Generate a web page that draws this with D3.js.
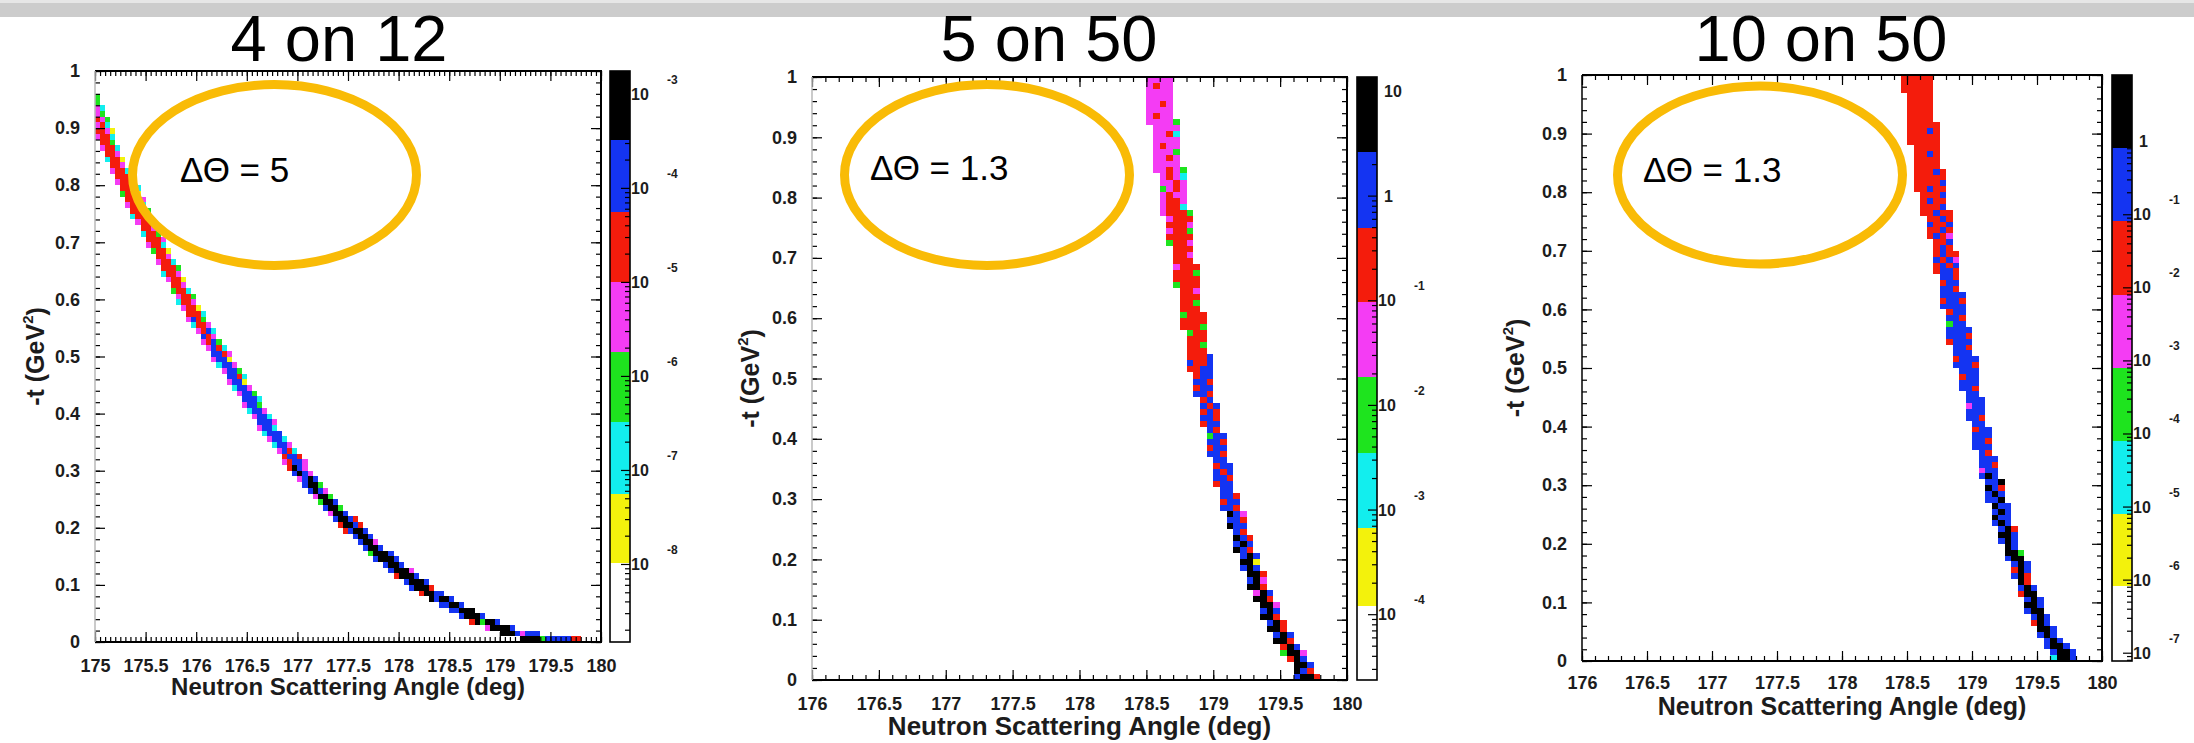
<!DOCTYPE html>
<html>
<head>
<meta charset="utf-8">
<script src="https://cdn.jsdelivr.net/npm/d3@7"></script>
<style>
  body { margin: 0; background: #fff; }
  svg { display: block; font-family: "Liberation Sans", Arial, Helvetica, sans-serif; }
</style>
</head>
<body>
<svg id="chart" width="2194" height="743"></svg>
<script>
// ---------- data ----------
var titles = ["4 on 12", "5 on 50", "10 on 50"];
var deltaTheta = ["5", "1.3", "1.3"];
var xDomains = [[175, 180], [176, 180], [176, 180]];
var xTicks1 = [175, 175.5, 176, 176.5, 177, 177.5, 178, 178.5, 179, 179.5, 180];
var xTickLabels1 = ["175", "175.5", "176", "176.5", "177", "177.5", "178", "178.5", "179", "179.5", "180"];
var xTicks2 = [176, 176.5, 177, 177.5, 178, 178.5, 179, 179.5, 180];
var xTickLabels2 = ["176", "176.5", "177", "177.5", "178", "178.5", "179", "179.5", "180"];
var yTicks = [0, 0.1, 0.2, 0.3, 0.4, 0.5, 0.6, 0.7, 0.8, 0.9, 1];
var yTickLabels = ["0", "0.1", "0.2", "0.3", "0.4", "0.5", "0.6", "0.7", "0.8", "0.9", "1"];
var xTitle = "Neutron Scattering Angle (deg)";

// histogram bins: 0.05 deg wide, 0.01 GeV^2 high
var binX = 0.05, binT = 0.01;

// one entry per -t bin (row 0 = 0..0.01): [first angle bin, colour code of each filled cell]
var band1 = [
  [84,"KKKKGBBBBBRR"],[80,"KKKBMBBB"],[77,"MKKKKB"],[74,"RKGKKB"],[72,"BKKKB"],
  [70,"BBKKK"],[68,"BBKKB"],[66,"KBKKB"],[64,"RKKBB"],[62,"BKKKR"],
  [61,"BKKKB"],[59,"RKKKB"],[58,"BKKKM"],[57,"BKKB"],[55,"BKKKB"],
  [54,"GKKKB"],[53,"BKKB"],[52,"BKKM"],[51,"BKKB"],[49,"RBKKB"],
  [48,"RKKBR"],[47,"BKKBR"],[46,"MKKB"],[45,"BKKG"],[44,"GKKB"],
  [43,"MKKG"],[42,"BKBM"],[41,"BKKG"],[40,"MBKB"],[39,"BKBM"],
  [38,"RKBM"],[37,"MRBBM"],[37,"RBBR"],[36,"MBRC"],[35,"CBBM"],
  [34,"MBBC"],[33,"CBBB"],[32,"MBBC"],[32,"BBBM"],[31,"MBBC"],
  [30,"CBBM"],[29,"MBBG"],[29,"BBBC"],[28,"MBBG"],[27,"CBBM"],
  [26,"MBBY"],[26,"BBRC"],[25,"MBBG"],[24,"CBBM"],[23,"MBBY"],
  [23,"BBRM"],[22,"MBRC"],[21,"MRBG"],[21,"BRM"],[20,"MRBC"],
  [19,"CRRM"],[18,"MBRG"],[18,"RRRC"],[17,"MRRY"],[16,"CRRM"],
  [16,"MRRG"],[15,"GRRC"],[15,"RRM"],[14,"MRRY"],[13,"CRRM"],
  [13,"RRRG"],[12,"MRRC"],[12,"RRM"],[11,"GRRY"],[10,"MRRC"],
  [10,"RRRM"],[9,"CRRG"],[9,"RRM"],[8,"MRRY"],[7,"CRRM"],
  [7,"RRRG"],[6,"MRRC"],[6,"RRRM"],[5,"GRRY"],[5,"RRMC"],
  [4,"MRRC"],[4,"RRRG"],[3,"MRRC"],[3,"RRM"],[2,"CRRY"],
  [2,"RRM"],[1,"MRRC"],[1,"RRG"],[0,"MRRC"],[0,"RRMY"],
  [0,"MRC"],[0,"RMG"],[0,"MG"],[0,"MC"],[0,"G"],[0,"G"]
];
var band2 = [
  [72,"BKKR"],[72,"KBR"],[72,"KKB"],[71,"RKB"],[70,"GKKM"],
  [70,"RKB"],[69,"KKR"],[69,"BKB"],[68,"KKR"],[68,"BKR"],
  [67,"KKR"],[67,"BKB"],[67,"KKM"],[66,"KKR"],[66,"MKB"],
  [65,"KKR"],[65,"BKM"],[65,"KKR"],[64,"BKB"],[64,"KKY"],
  [64,"BKB"],[63,"KBR"],[63,"BKB"],[63,"KBR"],[63,"BR"],
  [62,"KBB"],[62,"BBR"],[62,"KBM"],[61,"BBR"],[61,"RBB"],
  [61,"BBR"],[61,"BB"],[60,"RBB"],[60,"BBR"],[60,"BRB"],
  [60,"RBB"],[60,"BB"],[59,"BBR"],[59,"RBB"],[59,"BBR"],
  [59,"GBB"],[59,"BR"],[58,"RBB"],[58,"BBR"],[58,"RBR"],
  [58,"BRB"],[58,"RB"],[57,"BBR"],[57,"RBB"],[57,"BBR"],
  [57,"RBB"],[56,"RRBB"],[56,"BRRB"],[56,"RRRB"],[56,"RRR"],
  [56,"RRG"],[56,"RRR"],[56,"GRR"],[55,"RRRG"],[55,"RRRR"],
  [55,"GRRR"],[55,"RRR"],[55,"RRG"],[55,"RRR"],[55,"RRM"],
  [54,"GRRR"],[54,"RRRR"],[54,"RRRG"],[54,"MRRR"],[54,"RRR"],
  [54,"RRM"],[54,"RRR"],[53,"GRRM"],[53,"RRRR"],[53,"MRRG"],
  [53,"RRRM"],[53,"MRRR"],[52,"MRRRG"],[52,"MRRC"],[52,"MRRM"],
  [52,"MRMM"],[52,"GMRM"],[52,"MMRM"],[52,"MRMC"],[51,"MMRMG"],
  [51,"MMMM"],[51,"MMRM"],[51,"MMMG"],[51,"MRMM"],[51,"MMMM"],
  [51,"MMRC"],[51,"MMMM"],[50,"MMMMG"],[50,"MRMM"],[50,"MMMM"],
  [50,"MMRM"],[50,"MMMM"],[50,"MMMM"],[50,"MRMM"],[50,"MMMM"]
];
var band3 = [
  [72,"CKKB"],[72,"BKKB"],[71,"BKKB"],[71,"BKB"],[70,"BKB"],
  [70,"KKB"],[69,"RKB"],[69,"BKB"],[68,"BKK"],[68,"KKB"],
  [68,"BKB"],[67,"RKK"],[67,"BKB"],[67,"KR"],[66,"BKR"],
  [66,"RKB"],[66,"BKB"],[65,"BKK"],[65,"KKG"],[65,"KB"],
  [64,"BKB"],[64,"KKB"],[64,"BKR"],[63,"BKB"],[63,"KBB"],
  [63,"BKB"],[63,"KBB"],[62,"BBK"],[62,"BKB"],[62,"KBR"],
  [62,"BBK"],[61,"BKB"],[61,"MBB"],[61,"BBR"],[61,"BBB"],
  [61,"BR"],[60,"BBB"],[60,"BBR"],[60,"BBB"],[60,"RBB"],
  [60,"BB"],[59,"BBR"],[59,"BBB"],[59,"MBB"],[59,"BBB"],
  [59,"BB"],[58,"BBR"],[58,"BBB"],[58,"RBB"],[58,"BBB"],
  [57,"BBBR"],[57,"RBBB"],[57,"BBB"],[57,"BBR"],[56,"RBBB"],
  [56,"BBBR"],[56,"BBBB"],[56,"GBB"],[56,"BBR"],[56,"RBB"],
  [55,"BBBB"],[55,"RBBR"],[55,"BBBB"],[55,"BBR"],[55,"RBB"],
  [55,"BBR"],[54,"RBBR"],[54,"RBRB"],[54,"BRBM"],[54,"RBRR"],
  [54,"RBR"],[54,"RRB"],[53,"RBRM"],[53,"RRBR"],[53,"BRRB"],
  [53,"RRBR"],[52,"RRBRR"],[52,"RRRB"],[52,"RBRR"],[52,"RRRB"],
  [51,"RRBRR"],[51,"RRRRB"],[51,"RRRRR"],[51,"RRRBR"],[51,"RRRR"],
  [51,"RRRR"],[51,"RRBR"],[51,"RRRR"],[50,"RRRRR"],[50,"RRRRR"],
  [50,"RRRBR"],[50,"RRRRR"],[50,"RRRR"],[50,"RRRR"],[50,"RRRR"],
  [50,"RRRR"],[50,"RRRR"],[49,"RRRRR"],[49,"RRRRR"],[49,"RRRRR"]
];

// colour scale (z) ranges and contour levels, lowest level first
var zRange1 = [1.48e-9, 1.75e-3];
var zLevels1 = [1.02e-8, 5.6e-8, 3.2e-7, 1.8e-6, 1.0e-5, 5.6e-5, 3.2e-4];
var zExp1 = [-3, -4, -5, -6, -7, -8];
var zRange2 = [2.35e-5, 13.6];
var zLevels2 = [1.19e-4, 6.6e-4, 3.5e-3, 1.84e-2, 9.7e-2, 0.49, 2.6];
var zExp2 = [1, 0, -1, -2, -3, -4];
var zRange3 = [7.7e-8, 8.05];
var zLevels3 = [8.3e-7, 7.8e-6, 7.8e-5, 7.9e-4, 7.9e-3, 0.080, 0.80];
var zExp3 = [0, -1, -2, -3, -4, -5, -6, -7];

var codeOrder = ["Y", "C", "G", "M", "R", "B", "K"];
var codeColor = { Y: "#f3f20c", C: "#12eeee", G: "#1ee41e", M: "#f43cf4", R: "#f41c0c", B: "#1434f2", K: "#000000" };

// ---------- layout ----------
var panels = [
  { band: band1, xDomain: xDomains[0], xTicks: xTicks1, xLabels: xTickLabels1, xMinor: 0.05,
    zRange: zRange1, zLevels: zLevels1, zExp: zExp1,
    left: 95, right: 601, top: 71, bottom: 642, cbLeft: 610, cbRight: 630, leftEdge: "#b8b8b8",
    titleX: 339, xPad: 17.7, yTitleX: 35, xTitleY: 695, xTitleSize: 24,
    ell: { cx: 274.5, cy: 175, rx: 142, ry: 90.5 }, dtX: 180, dtY: 182 },
  { band: band2, xDomain: xDomains[1], xTicks: xTicks2, xLabels: xTickLabels2, xMinor: 0.1,
    zRange: zRange2, zLevels: zLevels2, zExp: zExp2,
    left: 812, right: 1347, top: 77, bottom: 680, cbLeft: 1357, cbRight: 1377, leftEdge: "#b8b8b8",
    titleX: 1049, xPad: 17.7, yTitleX: 750, xTitleY: 735, xTitleSize: 26,
    ell: { cx: 987, cy: 175, rx: 142.5, ry: 90.5 }, dtX: 870, dtY: 180 },
  { band: band3, xDomain: xDomains[2], xTicks: xTicks2, xLabels: xTickLabels2, xMinor: 0.1,
    zRange: zRange3, zLevels: zLevels3, zExp: zExp3,
    left: 1582, right: 2102, top: 75, bottom: 661, cbLeft: 2112, cbRight: 2132, leftEdge: "#000",
    titleX: 1821, xPad: 15.7, yTitleX: 1515, xTitleY: 715, xTitleSize: 25,
    ell: { cx: 1760, cy: 175, rx: 142.5, ry: 89 }, dtX: 1643, dtY: 182 }
];

var svg = d3.select("#chart");

// slide header strip
svg.append("rect").attr("x", 0).attr("y", 0).attr("width", 2194).attr("height", 17).attr("fill", "#cccccc");
svg.append("rect").attr("x", 0).attr("y", 0).attr("width", 2194).attr("height", 3).attr("fill", "#e6e6e6");

function styleAxis(g, size) {
  g.select(".domain").remove();
  g.selectAll("line").attr("stroke", "#000").attr("stroke-width", 1.2);
  g.selectAll("text").attr("font-size", size).attr("font-weight", "bold")
    .attr("fill", "#1c1c1c").attr("font-family", "'Liberation Sans', Arial, sans-serif");
}

function renderPanel(p, idx) {
  var g = svg.append("g");
  var x = d3.scaleLinear().domain(p.xDomain).range([p.left, p.right]);
  var y = d3.scaleLinear().domain([0, 1]).range([p.bottom, p.top]);

  // title
  g.append("text").attr("x", p.titleX).attr("y", 61).attr("text-anchor", "middle")
    .attr("font-size", 65).attr("fill", "#000").text(titles[idx]);

  // cells
  var cells = [];
  p.band.forEach(function(row, r) {
    row[1].split("").forEach(function(c, k) {
      cells.push({ b: row[0] + k, r: r, c: c });
    });
  });
  var clipId = "clip" + idx;
  g.append("clipPath").attr("id", clipId).append("rect")
    .attr("x", p.left).attr("y", p.top).attr("width", p.right - p.left).attr("height", p.bottom - p.top);
  var x0 = p.xDomain[0];
  g.append("g").attr("clip-path", "url(#" + clipId + ")")
    .selectAll("rect").data(cells).enter().append("rect")
    .attr("x", function(d) { return x(x0 + d.b * binX); })
    .attr("width", function(d) { return x(x0 + (d.b + 1) * binX) - x(x0 + d.b * binX); })
    .attr("y", function(d) { return y((d.r + 1) * binT); })
    .attr("height", function(d) { return y(d.r * binT) - y((d.r + 1) * binT); })
    .attr("fill", function(d) { return codeColor[d.c]; })
    .attr("shape-rendering", "crispEdges");

  // axes: major + minor, ticks pointing inward on all four sides
  var yMinor = d3.range(0, 1.0001, 0.02);
  var xMinor = d3.range(p.xDomain[0], p.xDomain[1] + 1e-6, p.xMinor);

  g.append("g").attr("transform", "translate(" + p.left + ",0)")
    .call(d3.axisLeft(y).tickValues(yMinor).tickSize(-5).tickFormat(""))
    .call(styleAxis, 18);
  g.append("g").attr("transform", "translate(" + p.left + ",0)")
    .call(d3.axisLeft(y).tickValues(yTicks).tickSize(-10).tickPadding(15)
      .tickFormat(function(d, i) { return yTickLabels[i]; }))
    .call(styleAxis, 18);
  g.append("g").attr("transform", "translate(" + p.right + ",0)")
    .call(d3.axisRight(y).tickValues(yMinor).tickSize(-5).tickFormat(""))
    .call(styleAxis, 18);
  g.append("g").attr("transform", "translate(" + p.right + ",0)")
    .call(d3.axisRight(y).tickValues(yTicks).tickSize(-10).tickFormat(""))
    .call(styleAxis, 18);

  g.append("g").attr("transform", "translate(0," + p.bottom + ")")
    .call(d3.axisBottom(x).tickValues(xMinor).tickSize(-5).tickFormat(""))
    .call(styleAxis, 18);
  g.append("g").attr("transform", "translate(0," + p.bottom + ")")
    .call(d3.axisBottom(x).tickValues(p.xTicks).tickSize(-10).tickPadding(p.xPad)
      .tickFormat(function(d, i) { return p.xLabels[i]; }))
    .call(styleAxis, 18);
  g.append("g").attr("transform", "translate(0," + p.top + ")")
    .call(d3.axisTop(x).tickValues(xMinor).tickSize(-5).tickFormat(""))
    .call(styleAxis, 18);
  g.append("g").attr("transform", "translate(0," + p.top + ")")
    .call(d3.axisTop(x).tickValues(p.xTicks).tickSize(-10).tickFormat(""))
    .call(styleAxis, 18);

  // frame
  g.append("path")
    .attr("d", "M" + p.left + "," + p.top + "H" + p.right + "V" + p.bottom + "H" + p.left)
    .attr("fill", "none").attr("stroke", "#000").attr("stroke-width", 2);
  g.append("line").attr("x1", p.left).attr("x2", p.left).attr("y1", p.top).attr("y2", p.bottom)
    .attr("stroke", p.leftEdge).attr("stroke-width", 1.5);

  // axis titles
  g.append("text").attr("x", (p.left + p.right) / 2).attr("y", p.xTitleY)
    .attr("text-anchor", "middle").attr("font-size", p.xTitleSize).attr("font-weight", "bold")
    .attr("fill", "#1c1c1c").text(xTitle);
  var yt = g.append("text")
    .attr("transform", "translate(" + p.yTitleX + "," + ((p.top + p.bottom) / 2) + ") rotate(-90)")
    .attr("text-anchor", "middle").attr("dy", "0.35em")
    .attr("font-size", 25).attr("font-weight", "bold").attr("fill", "#1c1c1c");
  yt.append("tspan").text("-t (GeV");
  yt.append("tspan").attr("font-size", 15).attr("dy", "-0.75em").text("2");
  yt.append("tspan").attr("dy", "0.5em").text(")");

  // colour bar
  var z = d3.scaleLog().domain(p.zRange).range([p.bottom, p.top]);
  var bounds = [p.zRange[0]].concat(p.zLevels).concat([p.zRange[1]]);
  var bandsCb = d3.range(bounds.length - 1).map(function(k) {
    return { lo: bounds[k], hi: bounds[k + 1], fill: k === 0 ? "#fff" : codeColor[codeOrder[k - 1]] };
  });
  g.append("g").selectAll("rect").data(bandsCb).enter().append("rect")
    .attr("x", p.cbLeft).attr("width", p.cbRight - p.cbLeft)
    .attr("y", function(d) { return z(d.hi); })
    .attr("height", function(d) { return z(d.lo) - z(d.hi); })
    .attr("fill", function(d) { return d.fill; })
    .attr("shape-rendering", "crispEdges");

  var eLo = Math.floor(Math.log10(p.zRange[0])), eHi = Math.ceil(Math.log10(p.zRange[1]));
  var zMajor = [], zMinor = [];
  d3.range(eLo, eHi + 1).forEach(function(e) {
    var v = Math.pow(10, e);
    if (v >= p.zRange[0] && v <= p.zRange[1]) zMajor.push(v);
    for (var m = 2; m <= 9; m++) {
      var w = m * v;
      if (w >= p.zRange[0] && w <= p.zRange[1]) zMinor.push(w);
    }
  });
  g.append("g").attr("transform", "translate(" + p.cbRight + ",0)")
    .call(d3.axisRight(z).tickValues(zMinor).tickSize(-5).tickFormat(""))
    .call(styleAxis, 16);
  g.append("g").attr("transform", "translate(" + p.cbRight + ",0)")
    .call(d3.axisRight(z).tickValues(zMajor).tickSize(-9).tickFormat(""))
    .call(styleAxis, 16);
  g.append("rect").attr("x", p.cbLeft).attr("y", p.top)
    .attr("width", p.cbRight - p.cbLeft).attr("height", p.bottom - p.top)
    .attr("fill", "none").attr("stroke", "#000").attr("stroke-width", 1.6);

  var lab = g.append("g").attr("font-weight", "bold").attr("fill", "#1c1c1c");
  p.zExp.forEach(function(e) {
    var yy = z(Math.pow(10, e));
    if (e === 0 || e === 1) {
      lab.append("text").attr("x", p.cbRight + 7).attr("y", yy + 6)
        .attr("font-size", 16).text(e === 0 ? "1" : "10");
    } else {
      lab.append("text").attr("x", p.cbRight + 1).attr("y", yy + 6)
        .attr("font-size", 16).text("10");
      lab.append("text").attr("x", p.cbRight + 37).attr("y", yy - 10)
        .attr("font-size", 12).text(String(e));
    }
  });

  // annotation ellipse
  g.append("ellipse").attr("cx", p.ell.cx).attr("cy", p.ell.cy)
    .attr("rx", p.ell.rx).attr("ry", p.ell.ry)
    .attr("fill", "none").attr("stroke", "#f9bb06").attr("stroke-width", 9);
  g.append("text").attr("x", p.dtX).attr("y", p.dtY).attr("font-size", 35).attr("fill", "#000")
    .text("\u0394\u0398 = " + deltaTheta[idx]);
}

panels.forEach(renderPanel);
</script>
</body>
</html>
